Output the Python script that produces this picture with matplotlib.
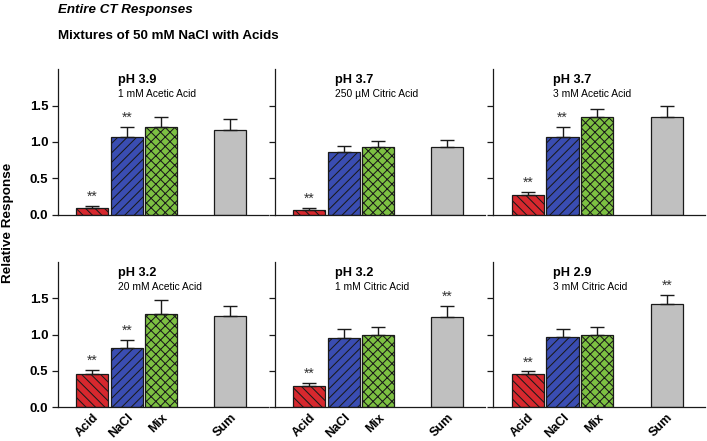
import matplotlib
matplotlib.use("Agg")
import matplotlib.pyplot as plt
import numpy as np

DPI = 85
S = 100 / DPI  # keeps sizes as if at 100 dpi

plt.rcParams['font.family'] = ['Liberation Sans', 'DejaVu Sans']
plt.rcParams['hatch.color'] = '#1a1a1a'
plt.rcParams['hatch.linewidth'] = 0.75 * S

categories = ["Acid", "NaCl", "Mix", "Sum"]
ph_labels = ["pH 3.9", "pH 3.7", "pH 3.7", "pH 3.2", "pH 3.2", "pH 2.9"]
acid_labels = ["1 mM Acetic Acid", "250 \u00b5M Citric Acid", "3 mM Acetic Acid",
               "20 mM Acetic Acid", "1 mM Citric Acid", "3 mM Citric Acid"]

# mean values per panel: Acid, NaCl, Mix, Sum
means = [
    [0.10, 1.07, 1.20, 1.16],
    [0.07, 0.86, 0.93, 0.93],
    [0.27, 1.07, 1.34, 1.34],
    [0.45, 0.81, 1.28, 1.26],
    [0.29, 0.95, 0.99, 1.24],
    [0.45, 0.96, 1.00, 1.42],
]
errors = [
    [0.03, 0.14, 0.14, 0.15],
    [0.03, 0.08, 0.08, 0.10],
    [0.04, 0.13, 0.11, 0.15],
    [0.06, 0.12, 0.19, 0.14],
    [0.04, 0.12, 0.12, 0.15],
    [0.04, 0.12, 0.10, 0.13],
]
significant = [
    [True, True, False, False],
    [True, False, False, False],
    [True, True, False, False],
    [True, True, False, False],
    [True, False, False, True],
    [True, False, False, True],
]
yticks = [0.0, 0.5, 1.0, 1.5]

positions = [0, 1, 2, 4]
colors = ['#d7282e', '#3a4db2', '#7dc142', '#c0c0c0']
hatches = ['\\\\\\', '///', 'xxx', None]

W, H = 707, 441
fig = plt.figure(figsize=(W / DPI, H / DPI), dpi=DPI)

lefts = [58, 275, 493]
widths = [210, 210, 212]
rows = [(69, 215), (262, 407)]  # top px, bottom px

for i in range(6):
    r, c = divmod(i, 3)
    top, bot = rows[r]
    ax = fig.add_axes([lefts[c] / W, 1 - bot / H, widths[c] / W, (bot - top) / H])
    for j in range(4):
        ax.bar(positions[j], means[i][j], width=0.93, color=colors[j],
               edgecolor='#1a1a1a', linewidth=0.9 * S, hatch=hatches[j], zorder=2)
        ax.errorbar(positions[j], means[i][j], yerr=[[0], [errors[i][j]]],
                    fmt='none', ecolor='#1a1a1a', elinewidth=1.0 * S, capsize=5.2 * S,
                    capthick=1.0 * S, zorder=3)
        if significant[i][j]:
            ax.text(positions[j], means[i][j] + errors[i][j] + 0.03, '**',
                    ha='center', va='bottom', fontsize=10 * S, color='#333333')
    ax.set_xlim(-1.0, 5.1)
    ax.set_ylim(0, 2.0)
    ax.set_yticks(yticks)
    if c == 0:
        ax.set_yticklabels([f"{v:.1f}" for v in yticks], fontsize=9.5 * S, fontweight='bold')
    else:
        ax.set_yticklabels([])
    ax.tick_params(axis='y', direction='out', length=4 * S, width=0.9 * S,
                   color='#1a1a1a', pad=3 * S)
    ax.tick_params(axis='x', length=0, pad=3.5 * S)
    ax.set_xticks(positions)
    if r == 1:
        ax.set_xticklabels(categories, rotation=45, ha='right', rotation_mode='anchor',
                           fontsize=9 * S, fontweight='bold')
    else:
        ax.set_xticklabels([])
    for s in ['top', 'right']:
        ax.spines[s].set_visible(False)
    for s in ['left', 'bottom']:
        ax.spines[s].set_linewidth(0.9 * S)
        ax.spines[s].set_color('#1a1a1a')
    ax.set_facecolor('none')
    ax.text(0.74, 1.85, ph_labels[i], fontsize=9.2 * S, fontweight='bold', va='center', ha='left')
    ax.text(0.74, 1.66, acid_labels[i], fontsize=7.4 * S, va='center', ha='left')

fig.text(58 / W, 1 - 10 / H, "Entire CT Responses", fontsize=9.6 * S, fontweight='bold',
         fontstyle='italic', ha='left', va='center')
fig.text(58 / W, 1 - 36 / H, "Mixtures of 50 mM NaCl with Acids", fontsize=9.6 * S,
         fontweight='bold', ha='left', va='center')
fig.text(8 / W, 1 - 223 / H, "Relative Response", fontsize=9.7 * S, fontweight='bold',
         rotation=90, ha='center', va='center')

fig.savefig("out.png", dpi=DPI)
